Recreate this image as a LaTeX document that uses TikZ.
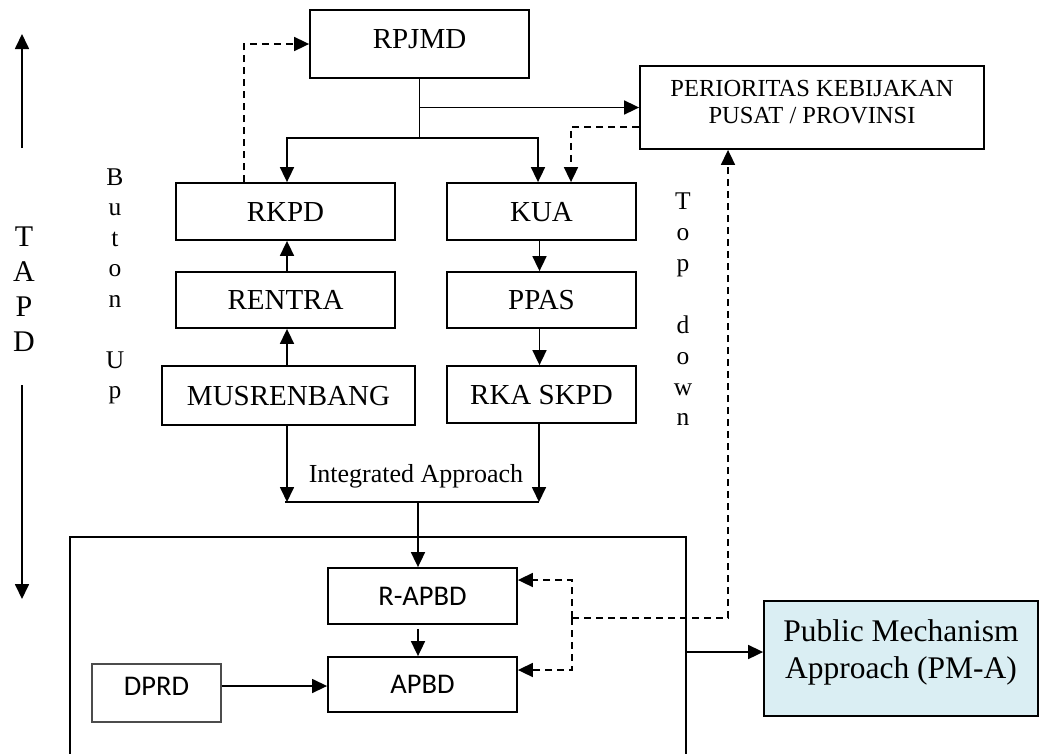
\documentclass[tikz,border=0pt]{standalone}
\usepackage{fontspec}
\setmainfont{Liberation Serif}
\newfontfamily\calibrifont{Carlito}
\usetikzlibrary{arrows.meta}
\definecolor{pmablue}{HTML}{DAEEF3}
\begin{document}
\begin{tikzpicture}[x=1pt,y=-1pt,line width=1.7pt,
  >={Triangle[length=15pt,width=14pt]},
  box/.style={draw,line width=1.8pt,inner sep=0pt,font=\fontsize{29}{34}\selectfont,text height=19.2pt,text depth=0pt},
  cbox/.style={draw,line width=1.8pt,inner sep=0pt,font=\calibrifont\fontsize{28.5}{34}\selectfont,text height=18.4pt,text depth=0pt},
  dsh/.style={dash pattern=on 7pt off 5pt},
  vlet/.style={font=\fontsize{25.5}{30}\selectfont,anchor=base,inner sep=0pt},
  tlet/.style={font=\fontsize{30}{35}\selectfont,anchor=base,inner sep=0pt},
]
\useasboundingbox (0,0) rectangle (1040,753);

% main boxes
\node[box,minimum width=219pt,minimum height=68pt,text depth=10pt] (rpjmd) at (419.5,44) {RPJMD};
\node[draw,line width=1.8pt,inner sep=0pt,minimum width=344pt,minimum height=83pt,font=\fontsize{24.5}{27}\selectfont,text height=16pt,text depth=38pt] (per) at (812,107.5) {\begin{tabular}[t]{@{}c@{}}PERIORITAS KEBIJAKAN\\PUSAT / PROVINSI\end{tabular}};
\node[box,minimum width=219pt,minimum height=57pt] (rkpd) at (285.5,211.5) {RKPD};
\node[box,minimum width=189pt,minimum height=57pt] (kua) at (541.5,211.5) {KUA};
\node[box,minimum width=219pt,minimum height=56pt] (rentra) at (285.5,300) {RENTRA};
\node[box,minimum width=189pt,minimum height=56pt] (ppas) at (541.5,300) {PPAS};
\node[box,minimum width=253pt,minimum height=59pt] (mus) at (288.5,395.5) {MUSRENBANG};
\node[box,minimum width=189pt,minimum height=57pt] (rka) at (541.5,394.5) {RKA SKPD};

% big frame (cut at bottom)
\coordinate (bbBL) at (70,760);
\coordinate (bbTL) at (70,537);
\coordinate (bbTR) at (686,537);
\coordinate (bbBR) at (686,760);
\draw[line width=1.8pt] (bbBL) -- (bbTL) -- (bbTR) -- (bbBR);

\node[cbox,minimum width=189pt,minimum height=56pt] (rapbd) at (422.5,596) {R-APBD};
\node[cbox,minimum width=189pt,minimum height=55pt] (apbd) at (422.5,684.5) {APBD};
\node[cbox,draw=black!70,line width=1.2pt,minimum width=129pt,minimum height=58pt,text depth=14pt] (dprd) at (156.5,693) {DPRD};
\node[draw,line width=1.8pt,fill=pmablue,inner sep=0pt,minimum width=274pt,minimum height=115pt,font=\fontsize{31.5}{37}\selectfont,text height=25pt,text depth=60pt] (pma) at (901,658.5) {\begin{tabular}[t]{@{}c@{}}Public Mechanism\\Approach (PM-A)\end{tabular}};

% top connectors
\coordinate (br) at (419.5,138);
\draw (rpjmd.south) -- (br);
\draw[->] (br) -| ([xshift=1.5pt]rkpd.north);
\draw[->] (br) -| ([xshift=-3.5pt]kua.north);
\draw[->] (rpjmd.south |- per.west) -- (per.west);
\draw[dsh,->] ([yshift=-19.5pt]per.west) -| ([xshift=29.5pt]kua.north);
\draw[dsh,->] ([xshift=-41.5pt]rkpd.north) |- (rpjmd.west);

% column arrows
\draw[->] ([xshift=1.5pt]rentra.north) -- ([xshift=1.5pt]rkpd.south);
\draw[->] ([xshift=1.5pt]rentra.south |- mus.north) -- ([xshift=1.5pt]rentra.south);
\draw[->] ([xshift=-2pt]kua.south) -- ([xshift=-2pt]ppas.north);
\draw[->] ([xshift=-2pt]ppas.south) -- ([xshift=-2pt]rka.north);

% integrated approach
\coordinate (iaL) at (285,502);
\coordinate (iaR) at (539,502);
\coordinate (iaM) at (418,502);
\draw (iaL) -- (iaR);
\draw[->] ([xshift=-1.5pt]mus.south) -- ([xshift=-1.5pt]mus.south |- iaL);
\draw[->] ([xshift=-2.5pt]rka.south) -- ([xshift=-2.5pt]rka.south |- iaR);
\node[font=\fontsize{26}{30}\selectfont,anchor=base,inner sep=0pt] (ia) at (416,482) {Integrated Approach};
\draw[->] (iaM) -- (iaM |- rapbd.north);

% inside frame
\draw[->,shorten <=4pt] (iaM |- rapbd.south) -- (iaM |- apbd.north);
\draw[->,line width=1.4pt] ([yshift=7pt]dprd.east) -- ([yshift=7pt]dprd.east -| apbd.west);

\coordinate (dj) at (572,618);
\coordinate (dc) at (728,618);
\draw[dsh,->] (dj) |- ([yshift=16pt]rapbd.east);
\draw[dsh,->] (dj) |- ([yshift=14.5pt]apbd.east);
\draw[dsh,->] (dj) -- (dc) -- (dc |- per.south);

\coordinate (bbR) at (686,652);
\draw[->] (bbR) -- (bbR -| pma.west);

% TAPD arrows and letters
\coordinate (tu1) at (22,148);
\coordinate (tu2) at (22,34);
\coordinate (td1) at (22,385);
\coordinate (td2) at (22,599);
\draw[->] (tu1) -- (tu2);
\draw[->] (td1) -- (td2);
\foreach \c/\yy [count=\i] in {T/246.7,A/281.7,P/316.7,D/351.7}
  \node[tlet] (tapd\i) at (24,\yy) {\c};

% Buton Up
\foreach \c/\yy [count=\i] in {B/185,u/215.5,t/246,o/276.5,n/307,U/368,p/398.5}
  \node[vlet] (bu\i) at (115,\yy) {\c};

% Top down
\foreach \c/\yy [count=\i] in {T/209,o/240,p/271,d/333,o/364,w/395,n/425}
  \node[vlet] (tdn\i) at (683,\yy) {\c};
\end{tikzpicture}
\end{document}
